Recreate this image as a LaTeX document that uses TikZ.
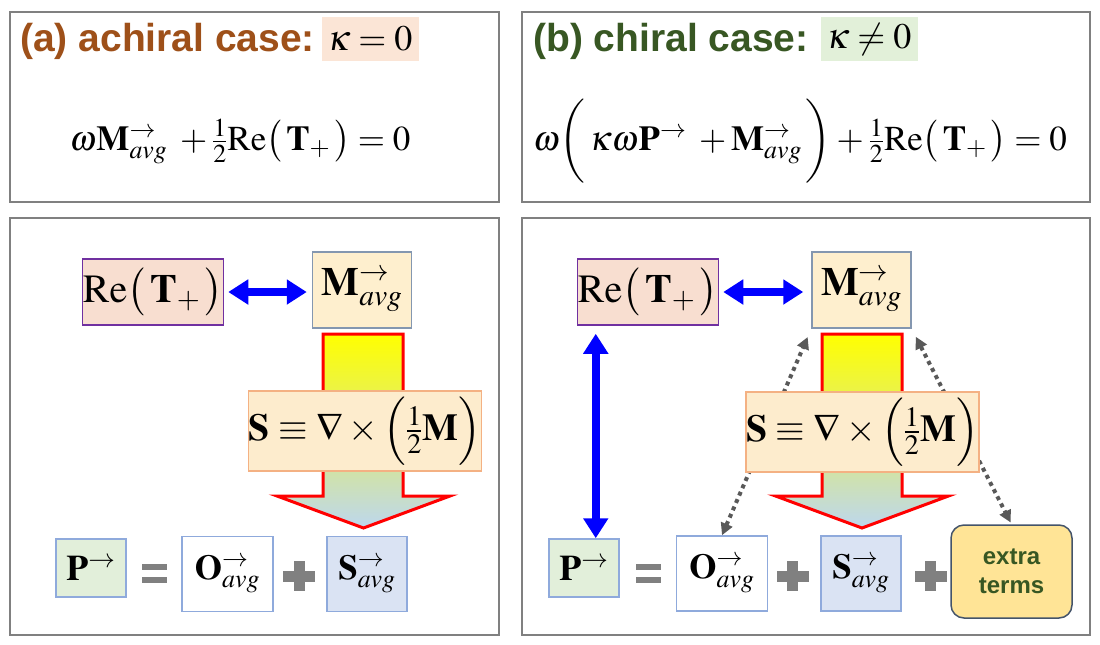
\documentclass[tikz,border=0pt]{standalone}
\usepackage{amsmath}
\usepackage{mathptmx}
\usepackage[no-math]{fontspec}
\setsansfont{Liberation Sans}
\usetikzlibrary{arrows.meta,calc}
\definecolor{framegray}{RGB}{128,128,128}
\definecolor{titleA}{RGB}{158,80,25}
\definecolor{titleB}{RGB}{56,87,35}
\definecolor{kapA}{RGB}{251,229,214}
\definecolor{kapB}{RGB}{226,240,217}
\definecolor{reFill}{RGB}{248,222,208}
\definecolor{reLine}{RGB}{112,48,160}
\definecolor{mFill}{RGB}{254,239,206}
\definecolor{mLine}{RGB}{132,151,176}
\definecolor{sFill}{RGB}{253,236,205}
\definecolor{sLine}{RGB}{244,177,131}
\definecolor{pFill}{RGB}{226,239,218}
\definecolor{botLine}{RGB}{143,170,220}
\definecolor{svFill}{RGB}{218,227,243}
\definecolor{opGray}{RGB}{128,128,128}
\definecolor{exFill}{RGB}{255,228,150}
\definecolor{exLine}{RGB}{68,84,106}
\definecolor{dotGray}{RGB}{89,89,89}
\definecolor{arrBot}{RGB}{189,215,238}
\definecolor{arrMid}{RGB}{240,238,200}
\newcommand{\vecavg}[1]{\mathbf{#1}^{\rightarrow}_{avg}}
\begin{document}
\begin{tikzpicture}[x=1pt,y=-1pt,
  frame/.style={draw=framegray,line width=2.2pt},
  titletext/.style={anchor=base west,inner sep=0pt,font=\sffamily\bfseries\fontsize{39}{47}\selectfont},
  kapbox/.style={inner sep=0pt,minimum width=97pt,minimum height=44pt,font=\fontsize{36}{43}\selectfont},
  eqtext/.style={anchor=base,inner sep=0pt,font=\fontsize{35}{42}\selectfont},
  box/.style={inner sep=0pt,line width=1.5pt},
  rebox/.style={box,draw=reLine,fill=reFill,minimum width=141pt,minimum height=66pt,font=\fontsize{40}{48}\selectfont},
  mbox/.style={box,draw=mLine,fill=mFill,minimum width=99pt,minimum height=76pt,font=\fontsize{40}{48}\selectfont},
  sbox/.style={box,draw=sLine,fill=sFill,minimum width=233pt,minimum height=80pt,font=\fontsize{38}{46}\selectfont},
  pbox/.style={box,draw=botLine,fill=pFill,minimum width=70pt,minimum height=58pt,font=\fontsize{36}{43}\selectfont},
  obox/.style={box,draw=botLine,fill=white,minimum width=91pt,minimum height=75pt,font=\fontsize{35}{42}\selectfont},
  svbox/.style={box,draw=botLine,fill=svFill,minimum width=80pt,minimum height=75pt,font=\fontsize{35}{42}\selectfont},
  exbox/.style={box,draw=exLine,fill=exFill,rounded corners=13pt,minimum width=121pt,minimum height=93pt,align=center,text=titleB,font=\sffamily\bfseries\fontsize{24}{29}\selectfont},
  bluearr/.style={draw=blue,line width=8pt,{Triangle[length=20pt,width=24pt]}-{Triangle[length=20pt,width=24pt]}},
  dotarr/.style={draw=dotGray,line width=4pt,dash pattern=on 4pt off 4pt,{Triangle[length=12pt,width=12pt]}-{Triangle[length=12pt,width=12pt]}},
  bigarrow/.style={draw=red,line width=3pt,line join=miter,top color=yellow,middle color=arrMid,bottom color=arrBot},
  opfill/.style={fill=opGray,draw=none}
]
\useasboundingbox (0,0) rectangle (1100,645);
\fill[white] (0,0) rectangle (1100,645);

% frames
\draw[frame] (10,12) rectangle (499,202);
\draw[frame] (522,12) rectangle (1090,202);
\draw[frame] (10,218) rectangle (499,635);
\draw[frame] (522,218) rectangle (1090,635);

% titles
\node[titletext,text=titleA] (titA) at (20,51) {(a) achiral case:};
\node[kapbox,fill=kapA] (kapA) at (370,39) {$\kappa=0$};
\node[titletext,text=titleB] (titB) at (533,51) {(b) chiral case:};
\node[kapbox,fill=kapB] (kapB) at (869,39) {$\kappa\neq0$};

% equations
\node[eqtext] (eqA) at (240,150) {$\omega\vecavg{M}\;+\tfrac{1}{2}\mathrm{Re}\bigl(\,\mathbf{T}_{+}\,\bigr)=0$};
\node[eqtext] (eqB) at (800,150) {$\omega\biggl(\,\kappa\omega\mathbf{P}^{\rightarrow}\;+\vecavg{M}\,\biggr)+\tfrac{1}{2}\mathrm{Re}\bigl(\,\mathbf{T}_{+}\,\bigr)=0$};

% ---------- panel a ----------
\node[rebox] (reA) at (153,292) {$\mathrm{Re}\bigl(\,\mathbf{T}_{+}\,\bigr)$};
\node[mbox] (mA) at (362,290) {$\vecavg{M}$};
\draw[bluearr,shorten <=4pt,shorten >=5pt] (reA.east) -- (reA.east -| mA.west);
\filldraw[bigarrow] (323,334) -- (403,334) -- (403,496) -- (450,496) -- (363.5,528) -- (277,496) -- (323,496) -- cycle;
\node[sbox] (sA) at (365,431) {$\mathbf{S}\equiv\nabla\times\Bigl(\tfrac{1}{2}\mathbf{M}\Bigr)$};
\node[pbox] (pA) at (91,568) {$\mathbf{P}^{\rightarrow}$};
\coordinate (eqsA) at (154.5,573);
\fill[opfill] ($(eqsA)+(-12.5,-9.5)$) rectangle ($(eqsA)+(12.5,-3)$);
\fill[opfill] ($(eqsA)+(-12.5,3.5)$) rectangle ($(eqsA)+(12.5,10)$);
\node[obox] (oA) at (227.5,574) {$\vecavg{O}$};
\coordinate (plA) at (299,576);
\fill[opfill] ($(plA)+(-16,-5.5)$) rectangle ($(plA)+(16,5.5)$);
\fill[opfill] ($(plA)+(-5.5,-15)$) rectangle ($(plA)+(5.5,15)$);
\node[svbox] (svA) at (367,574) {$\vecavg{S}$};

% ---------- panel b ----------
\node[rebox] (reB) at (648,292) {$\mathrm{Re}\bigl(\,\mathbf{T}_{+}\,\bigr)$};
\node[mbox] (mB) at (861.5,290) {$\vecavg{M}$};
\draw[bluearr,shorten <=4pt,shorten >=8pt] (reB.east) -- (reB.east -| mB.west);
\node[pbox] (pB) at (584,568) {$\mathbf{P}^{\rightarrow}$};
\draw[bluearr,shorten <=8pt] ([xshift=19pt]reB.south west) -- ([xshift=19pt]reB.south west |- pB.north);
\coordinate (eqsB) at (648,573);
\fill[opfill] ($(eqsB)+(-12.5,-9.5)$) rectangle ($(eqsB)+(12.5,-3)$);
\fill[opfill] ($(eqsB)+(-12.5,3.5)$) rectangle ($(eqsB)+(12.5,10)$);
\node[obox] (oB) at (722,573.5) {$\vecavg{O}$};
\coordinate (plB) at (792.5,576);
\fill[opfill] ($(plB)+(-16,-5.5)$) rectangle ($(plB)+(16,5.5)$);
\fill[opfill] ($(plB)+(-5.5,-15)$) rectangle ($(plB)+(5.5,15)$);
\node[svbox] (svB) at (861,573.5) {$\vecavg{S}$};
\coordinate (plC) at (930.5,576);
\fill[opfill] ($(plC)+(-16,-5.5)$) rectangle ($(plC)+(16,5.5)$);
\fill[opfill] ($(plC)+(-5.5,-15)$) rectangle ($(plC)+(5.5,15)$);
\node[exbox] (exB) at (1011.5,571.5) {extra\\terms};
% dotted arrows (behind S box)
\draw[dotarr,shorten >=9pt] (oB.north) -- (mB.south west);
\draw[dotarr,shorten <=9pt,shorten >=2pt] (mB.south east) -- (exB.north);
\filldraw[bigarrow] (822,334) -- (902,334) -- (902,496) -- (948.5,496) -- (862,528) -- (775.5,496) -- (822,496) -- cycle;
\node[sbox] (sB) at (862.5,432) {$\mathbf{S}\equiv\nabla\times\Bigl(\tfrac{1}{2}\mathbf{M}\Bigr)$};
\end{tikzpicture}
\end{document}
